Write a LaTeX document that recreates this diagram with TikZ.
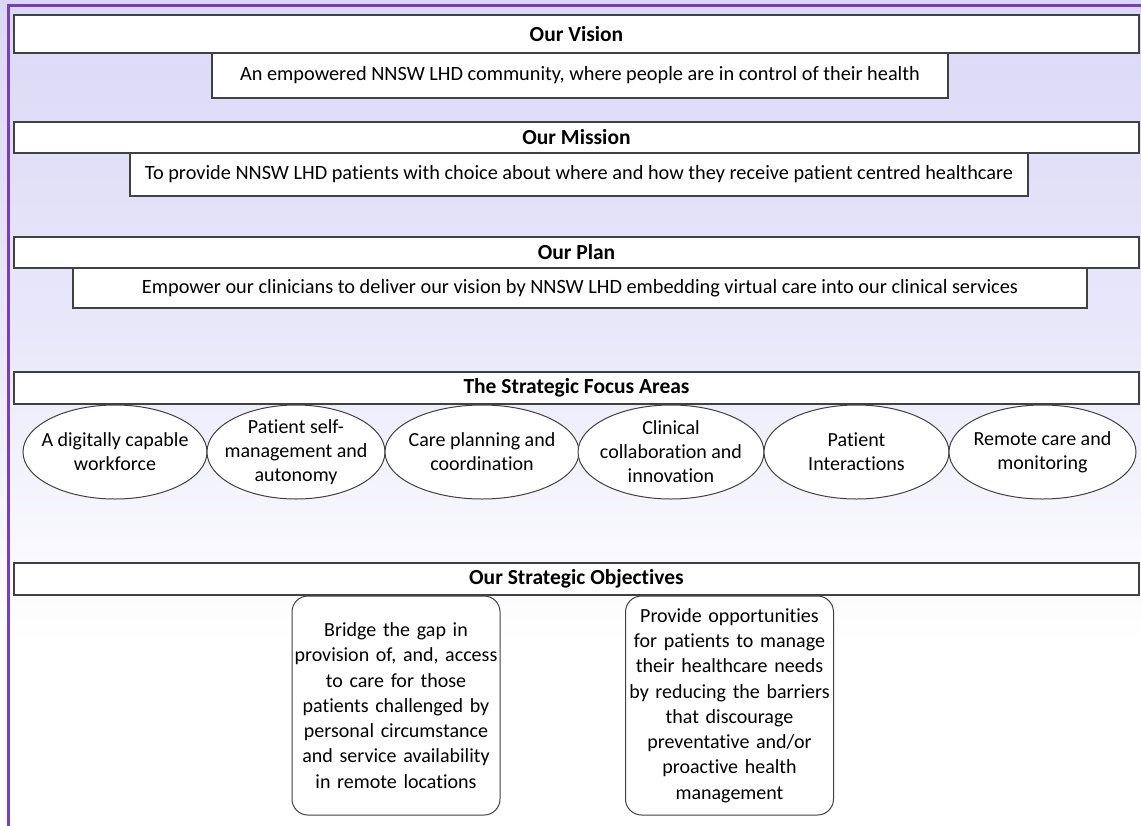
\documentclass[tikz,border=0pt]{standalone}
\usepackage{fontspec}
\setmainfont{Carlito}[Ligatures=NoCommon]
\usetikzlibrary{shapes.geometric}
\definecolor{lav}{RGB}{218,216,246}
\definecolor{lavmid}{RGB}{232,231,250}
\definecolor{framec}{RGB}{125,60,185}
\definecolor{edgec}{RGB}{65,65,65}
\begin{document}
\begin{tikzpicture}[x=1pt,y=-1pt,
  txt/.style={font=\fontsize{20}{24}\selectfont, text=black, align=center, inner sep=0pt},
  bar/.style={draw=edgec, line width=1.1pt, fill=white, inner sep=0pt,
    minimum width=1125pt, font=\fontsize{21.5}{24}\selectfont\bfseries},
  strip/.style={draw=edgec, line width=1.1pt, fill=white, inner sep=0pt,
    font=\fontsize{20.3}{24}\selectfont},
  focus/.style={ellipse, draw=edgec, line width=1pt, fill=white, inner sep=0pt,
    minimum height=94pt},
  objbox/.style={draw=edgec, line width=1pt, fill=white, rounded corners=16pt,
    inner sep=0pt, minimum width=208pt, minimum height=219pt, align=center,
    text width=206pt, font=\fontsize{20}{25.3}\selectfont}]
\useasboundingbox (0,0) rectangle (1141,825);
\clip (0,0) rectangle (1141,825);
\fill[white] (0,0) rectangle (1141,825);
\shade[top color=lav, bottom color=white, middle color=lavmid] (0,0) rectangle (1141,640);
% purple frame
\draw[framec, line width=3pt] (8,840) -- (8,5) -- (1160,5);

% Vision
\node[bar, minimum height=38pt] (visionbar) at (576.5,34) {Our Vision};
\node[strip, minimum width=736pt, minimum height=45pt] (vision) at (580,75.5)
  {An empowered NNSW LHD community, where people are in control of their health};

% Mission
\node[bar, minimum height=31pt] (missionbar) at (576.5,137.5) {Our Mission};
\node[strip, minimum width=898pt, minimum height=43pt] (mission) at (579,174.5)
  {To provide NNSW LHD patients with choice about where and how they receive patient centred healthcare};

% Plan
\node[bar, minimum height=31pt] (planbar) at (576.5,252.5) {Our Plan};
\node[strip, minimum width=1014pt, minimum height=40pt] (plan) at (580,288)
  {Empower our clinicians to deliver our vision by NNSW LHD embedding virtual care into our clinical services};

% Focus areas
\node[bar, minimum height=32pt] (focusbar) at (576.5,388) {The Strategic Focus Areas};
\node[focus, minimum width=184pt] (f1) at (115,452) {};
\node[focus, minimum width=178pt] (f2) at (296,452) {};
\node[focus, minimum width=194pt] (f3) at (482,452) {};
\node[focus, minimum width=186pt] (f4) at (671,452) {};
\node[focus, minimum width=185pt] (f5) at (856.5,452) {};
\node[focus, minimum width=187pt] (f6) at (1042.5,452) {};
\node[txt] (f1t) at (f1) {A digitally capable\\workforce};
\node[txt] (f2t) at (f2) {Patient self-\\management and\\autonomy};
\node[txt] (f3t) at (f3) {Care planning and\\coordination};
\node[txt] (f4t) at (f4) {Clinical\\collaboration and\\innovation};
\node[txt] (f5t) at (f5) {Patient\\Interactions};
\node[txt] (f6t) at (f6) {Remote care and\\monitoring};

% Objectives
\node[bar, minimum height=32pt] (objbar) at (576.5,579) {Our Strategic Objectives};
\node[objbox] (o1) at (396,705.5) {Bridge the gap in\\provision of, and, access\\to care for those\\patients challenged by\\personal circumstance\\and service availability\\in remote locations};
\node[objbox] (o2) at (729.5,705.5) {Provide opportunities\\for patients to manage\\their healthcare needs\\by reducing the barriers\\that discourage\\preventative and/or\\proactive health\\management};
\end{tikzpicture}
\end{document}
